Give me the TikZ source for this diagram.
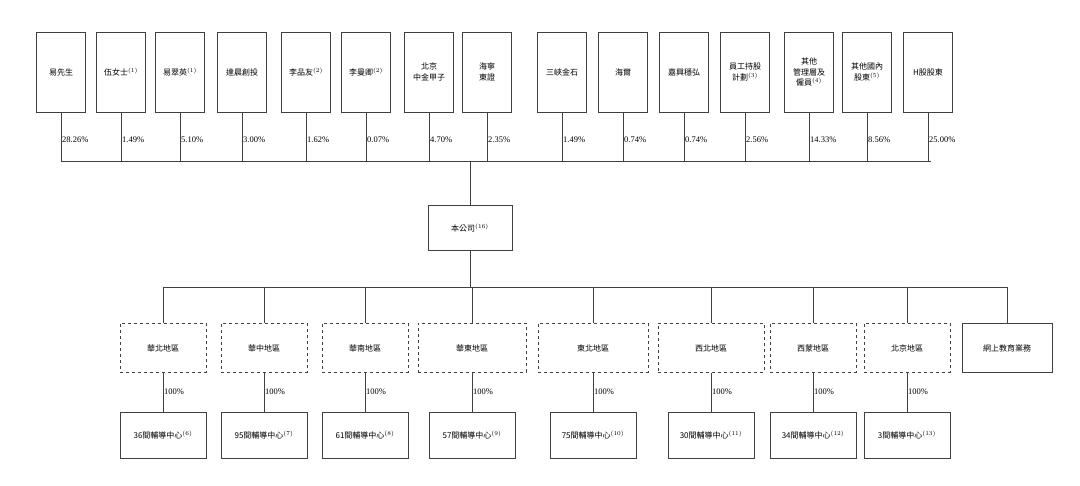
\documentclass[tikz,border=0pt]{standalone}
\usepackage{fontspec}
\setmainfont{Liberation Serif}
\newfontfamily\cjk{Noto Sans CJK TC}
\usetikzlibrary{positioning}
\tikzset{
  holder/.style={draw=black!75, minimum width=49pt, minimum height=80pt, align=center, font=\cjk\fontsize{8}{10.5}\selectfont, inner sep=1pt},
  region/.style={draw=black!75, dashed, minimum width=86pt, minimum height=49pt, font=\cjk\fontsize{8}{10}\selectfont},
  center/.style={draw=black!75, minimum width=86pt, minimum height=46pt, font=\cjk\fontsize{8}{10}\selectfont},
  pct/.style={font=\fontsize{8.5}{10}\selectfont, anchor=west, inner sep=1pt},
  link/.style={draw=black!75, line width=0.6pt}
}
\begin{document}
\begin{tikzpicture}[x=1pt, y=-1pt]
  \useasboundingbox (0,0) rectangle (1080,486);
  % shareholders
  \foreach \i/\x/\t/\p in {1/61/易先生/28.26\%, 2/121/伍女士$^{(1)}$/1.49\%, 3/180/易翠英$^{(1)}$/5.10\%,
      4/242/達晨創投/3.00\%, 5/306/李品友$^{(2)}$/1.62\%, 6/366/李曼卿$^{(2)}$/0.07\%,
      7/429/北京\\中金甲子/4.70\%, 8/487/海寧\\東證/2.35\%, 9/562/三峽金石/1.49\%,
      10/623/海爾/0.74\%, 11/684/嘉興穩弘/0.74\%, 12/745/員工持股\\計劃$^{(3)}$/2.56\%,
      13/809/其他\\管理層及\\僱員$^{(4)}$/14.33\%, 14/867/其他國內\\股東$^{(5)}$/8.56\%, 15/928/H股股東/25.00\%} {
    \node[holder] (s\i) at (\x,72) {\t};
    \draw[link] (s\i.south) -- (s\i.south |- 0,161);
    \node[pct] at (\x,140) {\p};
  }
  \draw[link] (61,161) -- (931,161);
  % company
  \node[center, minimum width=84pt, minimum height=45pt] (co) at (470,228) {本公司$^{(16)}$};
  \draw[link] (co.north |- 0,161) -- (co.north);
  \draw[link] (co.south) -- (co.south |- 0,287);
  \draw[link] (163,287) -- (1007,287);
  % regions and centres
  \foreach \i/\x/\w/\t/\n in {1/163/86/華北地區/36間輔導中心$^{(6)}$, 2/264/86/華中地區/95間輔導中心$^{(7)}$,
      3/365/86/華南地區/61間輔導中心$^{(8)}$, 4/472/108/華東地區/57間輔導中心$^{(9)}$,
      5/593/110/東北地區/75間輔導中心$^{(10)}$, 6/711/106/西北地區/30間輔導中心$^{(11)}$,
      7/813/86/西蒙地區/34間輔導中心$^{(12)}$, 8/907/86/北京地區/3間輔導中心$^{(13)}$} {
    \node[region, minimum width=\w pt] (r\i) at (\x,348) {\t};
    \node[center] (c\i) at (\x,435) {\n};
    \draw[link] (r\i.north |- 0,287) -- (r\i.north);
    \draw[link] (r\i.south) -- (c\i.north);
    \node[pct] at (\x,392) {100\%};
  }
  \node[center, minimum width=90pt, minimum height=49pt] (r9) at (1007,348) {網上教育業務};
  \draw[link] (r9.north |- 0,287) -- (r9.north);
\end{tikzpicture}
\end{document}
